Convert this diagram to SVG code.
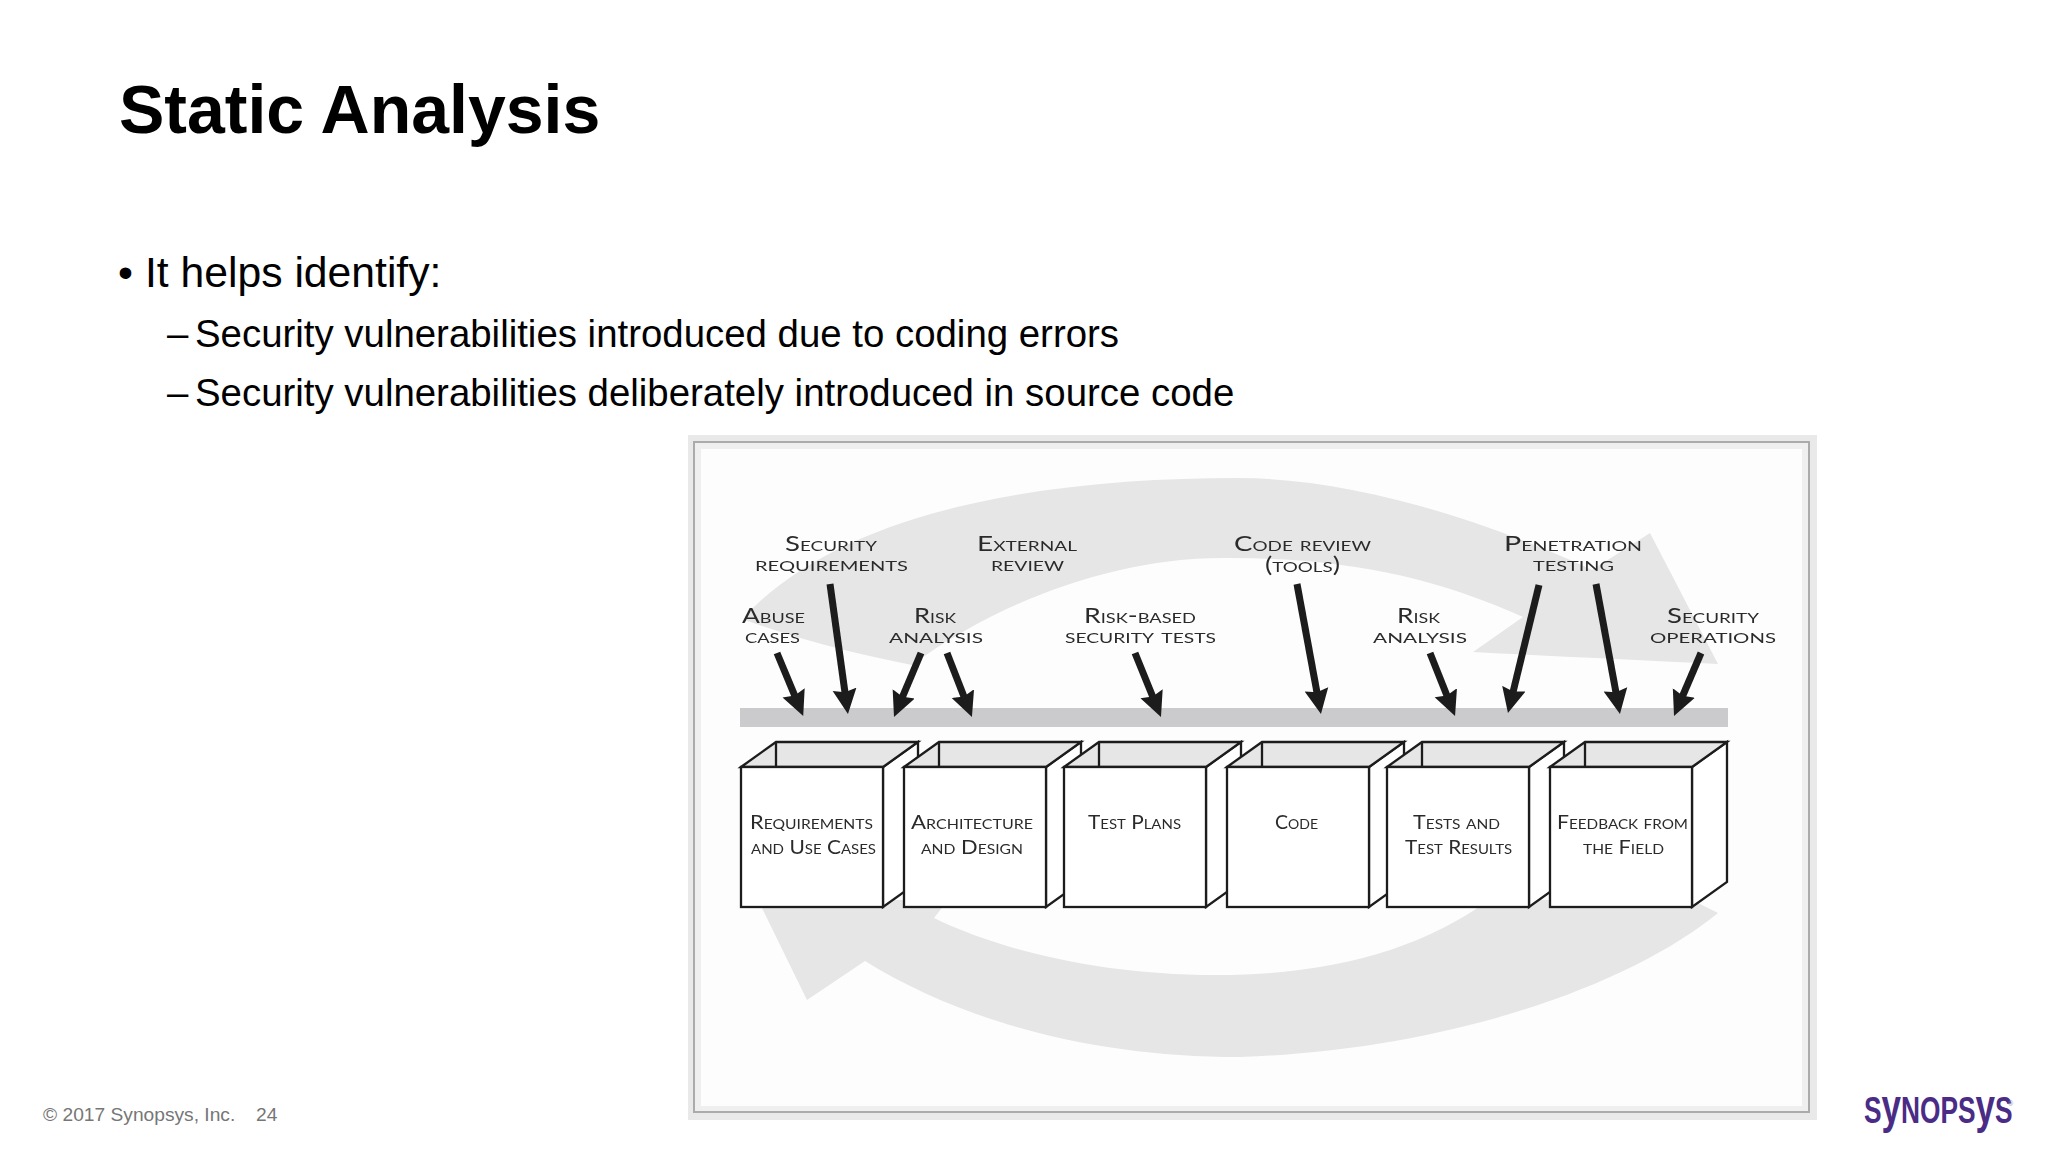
<svg xmlns="http://www.w3.org/2000/svg" width="2048" height="1152" viewBox="0 0 2048 1152">
<style>
.t{font-family:"Liberation Sans",Arial,sans-serif;fill:#000}
.b{font-size:42.67px}
.s{font-size:38.4px}
.f{font-family:"Liberation Sans",Arial,sans-serif;font-size:19.2px;fill:#767676}
.l{font-family:Lato,"Liberation Sans",sans-serif;font-variant:small-caps;font-size:20.5px;fill:#2c2c2c}
.c{font-family:Lato,"Liberation Sans",sans-serif;font-variant:small-caps;font-size:19.5px;fill:#2c2c2c}
.sw{fill:#e6e6e6}
.ar{stroke:#1c1c1e;stroke-width:7;fill:none;marker-end:url(#head)}
.bx{stroke:#1e1e1e;stroke-width:2.3;stroke-linejoin:miter}
</style>
<defs>
<filter id="soft" x="-2%" y="-2%" width="104%" height="104%"><feGaussianBlur stdDeviation="0.55"/></filter>
<marker id="head" markerUnits="userSpaceOnUse" markerWidth="28" markerHeight="26" refX="7" refY="12" orient="auto" viewBox="0 0 28 24">
<path d="M0,0 L25,12 L0,24 L3,12 Z" fill="#1c1c1e"/>
</marker>
<g id="box">
<polygon class="bx" points="142,0 177,-25 177,115 142,140" fill="#fff"/>
<polygon class="bx" points="0,0 35,-25 177,-25 142,0" fill="#e6e6e6"/>
<line class="bx" x1="35" y1="-25" x2="35" y2="0"/>
<rect class="bx" x="0" y="0" width="142" height="140" fill="#fff"/>
</g>
</defs>
<rect width="2048" height="1152" fill="#fff"/>
<text class="t" x="119" y="133" font-size="68" font-weight="700">Static Analysis</text>
<text class="t b" x="118" y="287">•</text>
<text class="t b" x="145" y="287">It helps identify:</text>
<text class="t s" x="167" y="347">–</text>
<text class="t s" x="195" y="347">Security vulnerabilities introduced due to coding errors</text>
<text class="t s" x="167" y="406">–</text>
<text class="t s" x="195" y="406">Security vulnerabilities deliberately introduced in source code</text>

<g id="figure" filter="url(#soft)">
<g id="figure-frame">
<rect x="688" y="435" width="1129" height="685" fill="#e9e9e9"/>
<rect x="694" y="442" width="1115" height="670" fill="#efefef" stroke="#ababab" stroke-width="2"/>
<rect x="701" y="449" width="1101" height="657" fill="#fdfdfd"/>
</g>
<g id="cycle-arrows">
<path class="sw" d="M745,616 C850,505 1060,478 1238,478 C1350,478 1480,518 1592,570 L1650,533 L1718,664 C1640,660 1550,656 1473,652 L1523,617 C1430,575 1340,558 1230,558 C1120,556 1000,600 912,665 C860,655 800,640 745,620 Z"/>
<path class="sw" d="M758,900 L807,1000 L865,961 C960,1020 1090,1057 1240,1057 C1450,1050 1630,985 1718,913 L1692,900 L1489,900 C1420,950 1330,975 1216,975 C1100,975 1000,950 934,918 L948,900 Z"/>
</g>
<rect id="bar" x="740" y="708" width="988" height="19" fill="#cbcbcd"/>
<g id="connectors">
<line class="ar" x1="777" y1="653" x2="796.3" y2="699.3"/>
<line class="ar" x1="830" y1="584" x2="845.5" y2="696.2"/>
<line class="ar" x1="921" y1="653" x2="901" y2="700.4"/>
<line class="ar" x1="947" y1="653" x2="965.4" y2="700.2"/>
<line class="ar" x1="1135" y1="653" x2="1154.2" y2="700.3"/>
<line class="ar" x1="1297" y1="584" x2="1317.7" y2="696.3"/>
<line class="ar" x1="1430" y1="653" x2="1448.4" y2="699.3"/>
<line class="ar" x1="1539" y1="585" x2="1512.2" y2="695.5"/>
<line class="ar" x1="1596" y1="584" x2="1616.7" y2="696.3"/>
<line class="ar" x1="1701" y1="653" x2="1681.1" y2="699.5"/>
</g>
<g id="activity-labels">
<text class="l" x="785" y="551" textLength="92" lengthAdjust="spacingAndGlyphs">Security</text>
<text class="l" x="755" y="571" textLength="153" lengthAdjust="spacingAndGlyphs">requirements</text>
<text class="l" x="977" y="551" textLength="100" lengthAdjust="spacingAndGlyphs">External</text>
<text class="l" x="991" y="571" textLength="73" lengthAdjust="spacingAndGlyphs">review</text>
<text class="l" x="742" y="623" textLength="63" lengthAdjust="spacingAndGlyphs">Abuse</text>
<text class="l" x="745" y="643" textLength="55" lengthAdjust="spacingAndGlyphs">cases</text>
<text class="l" x="914" y="623" textLength="42" lengthAdjust="spacingAndGlyphs">Risk</text>
<text class="l" x="889" y="643" textLength="94" lengthAdjust="spacingAndGlyphs">analysis</text>
<text class="l" x="1084" y="623" textLength="112" lengthAdjust="spacingAndGlyphs">Risk-based</text>
<text class="l" x="1065" y="643" textLength="151" lengthAdjust="spacingAndGlyphs">security tests</text>
<text class="l" x="1234" y="551" textLength="137" lengthAdjust="spacingAndGlyphs">Code review</text>
<text class="l" x="1265" y="572" textLength="75" lengthAdjust="spacingAndGlyphs">(tools)</text>
<text class="l" x="1397" y="623" textLength="43" lengthAdjust="spacingAndGlyphs">Risk</text>
<text class="l" x="1373" y="643" textLength="94" lengthAdjust="spacingAndGlyphs">analysis</text>
<text class="l" x="1504" y="551" textLength="138" lengthAdjust="spacingAndGlyphs">Penetration</text>
<text class="l" x="1533" y="571" textLength="81" lengthAdjust="spacingAndGlyphs">testing</text>
<text class="l" x="1667" y="623" textLength="92" lengthAdjust="spacingAndGlyphs">Security</text>
<text class="l" x="1650" y="643" textLength="126" lengthAdjust="spacingAndGlyphs">operations</text>
</g>
<g id="node-requirements"><use href="#box" x="741" y="767"/>
<text class="c" x="750" y="829" textLength="123" lengthAdjust="spacingAndGlyphs">Requirements</text>
<text class="c" x="751" y="854" textLength="125" lengthAdjust="spacingAndGlyphs">and Use Cases</text></g>
<g id="node-architecture"><use href="#box" x="904" y="767"/>
<text class="c" x="911" y="829" textLength="122" lengthAdjust="spacingAndGlyphs">Architecture</text>
<text class="c" x="921" y="854" textLength="102" lengthAdjust="spacingAndGlyphs">and Design</text></g>
<g id="node-test-plans"><use href="#box" x="1064" y="767"/>
<text class="c" x="1088" y="829" textLength="93" lengthAdjust="spacingAndGlyphs">Test Plans</text></g>
<g id="node-code"><use href="#box" x="1227" y="767"/>
<text class="c" x="1275" y="829" textLength="43" lengthAdjust="spacingAndGlyphs">Code</text></g>
<g id="node-tests"><use href="#box" x="1387" y="767"/>
<text class="c" x="1413" y="829" textLength="87" lengthAdjust="spacingAndGlyphs">Tests and</text>
<text class="c" x="1405" y="854" textLength="107" lengthAdjust="spacingAndGlyphs">Test Results</text></g>
<g id="node-feedback"><use href="#box" x="1550" y="767"/>
<text class="c" x="1557" y="829" textLength="131" lengthAdjust="spacingAndGlyphs">Feedback from</text>
<text class="c" x="1583" y="854" textLength="81" lengthAdjust="spacingAndGlyphs">the Field</text></g>
</g>
<text class="f" x="43" y="1121">© 2017 Synopsys, Inc.</text>
<text class="f" x="256" y="1121">24</text>
<g id="logo">
<text transform="translate(1864,1123) scale(0.73,1)" x="0" y="0" font-family="Liberation Sans,sans-serif" font-size="36" font-weight="700" fill="#4a2c86">S<tspan font-size="48">y</tspan>NOPS<tspan font-size="48">y</tspan>S</text>
<text x="2008" y="1106" font-family="Liberation Sans,sans-serif" font-size="7" fill="#8f7fb5">®</text>
</g>
</svg>
